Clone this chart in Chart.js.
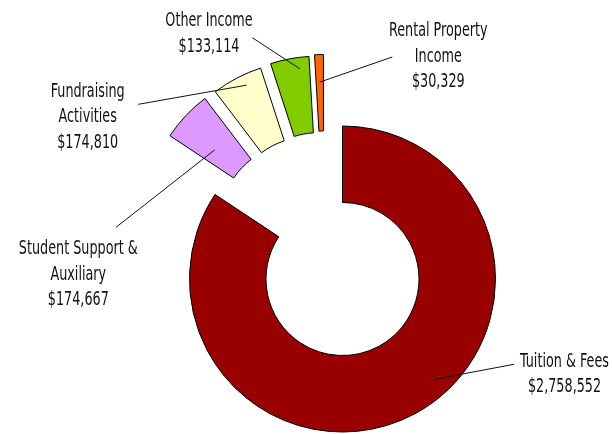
<!DOCTYPE html>
<html>
<head>
<meta charset="utf-8">
<script src="https://cdn.jsdelivr.net/npm/chart.js@4/dist/chart.umd.min.js"></script>
<style>
  html, body { margin: 0; padding: 0; background: #fff; }
  #wrap { width: 612px; height: 434px; position: relative; }
</style>
</head>
<body>
<div id="wrap"><canvas id="chart"></canvas></div>
<script>
// revenue sources, clockwise from 12 o'clock
const categories = ["Tuition & Fees", "Student Support & Auxiliary", "Fundraising Activities", "Other Income", "Rental Property Income"];
const labelLines = [["Tuition & Fees"], ["Student Support &", "Auxiliary"], ["Fundraising", "Activities"], ["Other Income"], ["Rental Property", "Income"]];
const revenue = [2758552, 174667, 174810, 133114, 30329];
const sliceColors = ["#990000", "#DD99FF", "#FFFFCC", "#80CC00", "#FF6600"];

const FONT = '"Liberation Sans Narrow", "DejaVu Sans Condensed", sans-serif';

// pull the small slices out of the ring, fanned toward the middle of the group
const explodePlugin = {
  id: "explode",
  afterUpdate(chart, args, opts) {
    const arcs = chart.getDatasetMeta(0).data;
    const out = arcs.slice(1);
    const gStart = Math.min(...out.map(a => a.startAngle));
    const gEnd = Math.max(...out.map(a => a.endAngle));
    const gMid = (gStart + gEnd) / 2;
    out.forEach(arc => {
      const mid = (arc.startAngle + arc.endAngle) / 2;
      const dir = gMid + opts.spread * (mid - gMid);
      arc.$shift = { dx: Math.cos(dir) * opts.distance, dy: Math.sin(dir) * opts.distance };
      if (!arc.$wrapped) {
        const orig = arc.draw.bind(arc);
        arc.draw = function (ctx, area) {
          ctx.save();
          ctx.translate(this.$shift.dx, this.$shift.dy);
          orig(ctx, area);
          ctx.restore();
        };
        arc.$wrapped = true;
      }
    });
  }
};

// labels with leader lines
const calloutPlugin = {
  id: "callouts",
  afterDatasetsDraw(chart, args, opts) {
    const ctx = chart.ctx;
    const arcs = chart.getDatasetMeta(0).data;
    ctx.save();
    arcs.forEach((arc, i) => {
      const c = opts.items[i];
      const sh = arc.$shift || { dx: 0, dy: 0 };
      const ang = arc.startAngle + (arc.endAngle - arc.startAngle) * c.a;
      const rad = arc.innerRadius + (arc.outerRadius - arc.innerRadius) * c.r;
      const ax = arc.x + sh.dx + Math.cos(ang) * rad;
      const ay = arc.y + sh.dy + Math.sin(ang) * rad;

      ctx.strokeStyle = "#111";
      ctx.lineWidth = 1;
      ctx.beginPath();
      ctx.moveTo(ax, ay);
      ctx.lineTo(c.lx, c.ly);
      ctx.stroke();

      const lines = labelLines[i].concat("$" + revenue[i].toLocaleString("en-US"));
      ctx.fillStyle = "#111";
      ctx.font = opts.fontSize + "px " + FONT;
      ctx.textAlign = "center";
      ctx.textBaseline = "alphabetic";
      lines.forEach((t, k) => {
        ctx.save();
        ctx.translate(c.tx, c.ty + k * opts.lineHeight);
        ctx.scale(opts.squeeze, 1);
        ctx.fillText(t, 0, 0);
        ctx.restore();
      });
    });
    ctx.restore();
  }
};

new Chart(document.getElementById("chart"), {
  type: "doughnut",
  data: {
    labels: categories,
    datasets: [{
      data: revenue,
      backgroundColor: sliceColors,
      borderColor: "#000",
      borderWidth: 1,
      clip: false
    }]
  },
  options: {
    responsive: true,
    maintainAspectRatio: false,
    animation: false,
    events: [],
    cutout: "50%",
    layout: { padding: { left: 189, right: 116, top: 125.5, bottom: 1.5 } },
    plugins: {
      legend: { display: false },
      tooltip: { enabled: false },
      explode: { distance: 74, spread: 0.5 },
      callouts: {
        fontSize: 20,
        lineHeight: 25.5,
        squeeze: 0.71,
        items: [
          { a: 0.457, r: 0.755, lx: 514, ly: 364.3, tx: 564.5, ty: 366.7 },
          { a: 0.36, r: 0.42, lx: 116, ly: 227.3, tx: 78.3, ty: 254 },
          { a: 0.61, r: 0.86, lx: 138.3, ly: 104.3, tx: 87.7, ty: 96.7 },
          { a: 0.73, r: 0.85, lx: 252.3, ly: 37.7, tx: 209, ty: 26 },
          { a: 0.5, r: 0.64, lx: 392.3, ly: 57, tx: 438.3, ty: 36 }
        ]
      }
    }
  },
  plugins: [explodePlugin, calloutPlugin]
});
</script>
</body>
</html>
